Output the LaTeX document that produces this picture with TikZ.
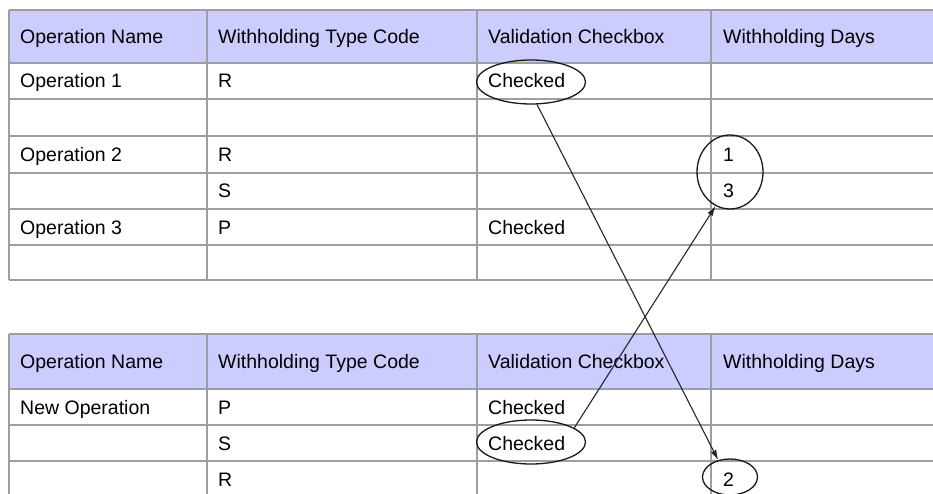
\documentclass[tikz,border=0pt]{standalone}
\usepackage{fontspec}
\setmainfont{Liberation Sans}
\usetikzlibrary{shapes.geometric,arrows.meta}

\definecolor{headblue}{RGB}{204,204,255}
\tikzset{
  grid line/.style={draw=black!38, line width=1.5pt},
  cell/.style={anchor=base west, inner sep=0pt, text=black, font=\fontsize{19.5}{23}\selectfont},
  ring/.style={ellipse, draw=black!90, line width=1.3pt, inner sep=0pt},
  link/.style={-{Latex[length=10pt,width=6pt]}, line width=1.1pt, draw=black!85},
}

\begin{document}
\begin{tikzpicture}[x=1pt,y=-1pt]
					\useasboundingbox (0,0) rectangle (933,494);
					%TABLE 1
					\fill[headblue] (9,10) rectangle (934,63);
					\foreach \y in {10,63,99,136,173,209,245,280}
					  \draw[grid line] (9,\y) -- (934,\y);
					\foreach \x in {9,207,477,711}
					  \draw[grid line] (\x,10) -- (\x,280);
					
					\node[cell] (ha) at (20,44) {Operation Name};
					\node[cell] (hb) at (218,44) {Withholding Type Code};
					\node[cell] (hc) at (488,44) {Validation Checkbox};
					\node[cell] (hd) at (723,44) {Withholding Days};
					
					\node[cell] (op1) at (20,88) {Operation 1};
					\node[cell] (op1r) at (218,88) {R};
					\node[cell] (op1c) at (488,88) {Checked};
					\node[ring, minimum width=109, minimum height=44] (chk1) at (531,82) {};
					
					\node[cell] (op2) at (20,161.5) {Operation 2};
					\node[cell] (op2r) at (218,161.5) {R};
					\node[cell] (op2d) at (723,161.5) {1};
					\node[cell] (op2s) at (218,198) {S};
					\node[cell] (op2e) at (723,198) {3};
					\node[ring, minimum width=66, minimum height=74] (d13) at (730,172) {};
					
					\node[cell] (op3) at (20,234) {Operation 3};
					\node[cell] (op3p) at (218,234) {P};
					\node[cell] (op3c) at (488,234) {Checked};
					
					%TABLE 2
					\fill[headblue] (9,334) rectangle (934,389);
					\foreach \y in {334,389,425,461}
					  \draw[grid line] (9,\y) -- (934,\y);
					\foreach \x in {9,207,477,711}
					  \draw[grid line] (\x,334) -- (\x,500);
					
					\node[cell] (na) at (20,368.5) {Operation Name};
					\node[cell] (nb) at (218,368.5) {Withholding Type Code};
					\node[cell] (nc) at (488,368.5) {Validation Checkbox};
					\node[cell] (nd) at (723,368.5) {Withholding Days};
					
					\node[cell] (new) at (20,414) {New Operation};
					\node[cell] (newp) at (218,414) {P};
					\node[cell] (newc) at (488,414) {Checked};
					\node[cell] (news) at (218,450) {S};
					\node[cell] (newc2) at (488,450) {Checked};
					\node[ring, minimum width=109, minimum height=44] (chk2) at (531,442) {};
					\node[cell] (newr) at (218,486) {R};
					\node[cell] (newd) at (723,486) {2};
					\node[ring, minimum width=55, minimum height=36] (d2) at (730,477) {};
					
					%ARROWS
					\draw[link] (chk1.285) -- (d2.125);
					\draw[link] (chk2.18) -- (d13.247);
					
				  \end{tikzpicture}
\end{document}
